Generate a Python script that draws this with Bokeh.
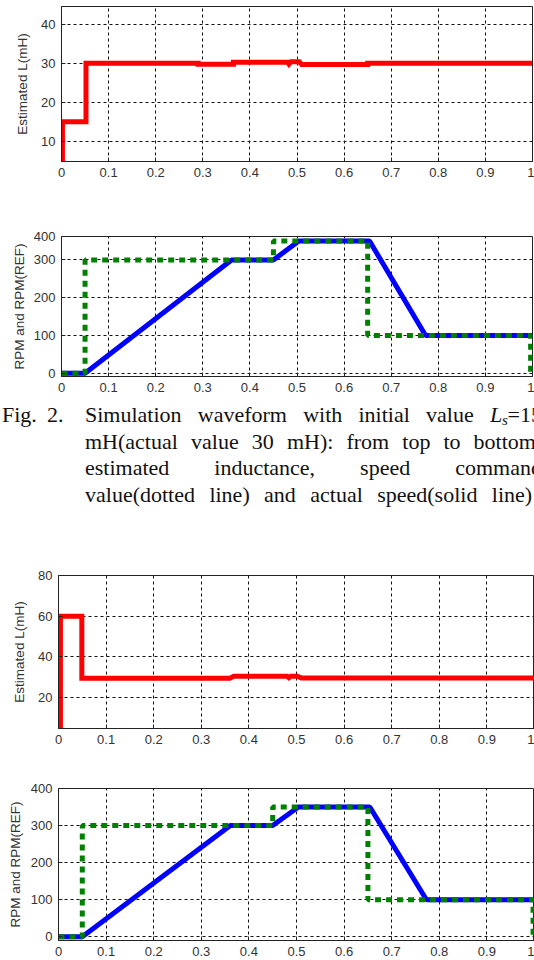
from bokeh.plotting import figure
from bokeh.layouts import column
from bokeh.models import Range1d, FixedTicker, Div
from bokeh.embed import file_html
from bokeh.resources import INLINE

# ---------------- data ----------------
time_ticks = [0, 0.1, 0.2, 0.3, 0.4, 0.5, 0.6, 0.7, 0.8, 0.9, 1.0]
time_labels = ["0", "0.1", "0.2", "0.3", "0.4", "0.5", "0.6", "0.7", "0.8", "0.9", "1"]

# Panel 1: estimated inductance, initial value 15 mH
est1_t = [0.002, 0.002, 0.052, 0.052, 0.29, 0.29, 0.365, 0.365, 0.48, 0.483, 0.487, 0.505, 0.51, 0.65, 0.65, 1.0]
est1_L = [0, 15, 15, 30, 30, 29.8, 29.8, 30.3, 30.3, 29.8, 30.4, 30.4, 29.7, 29.7, 30.05, 30.05]
est1_yticks = [10, 20, 30, 40]

# Panel 2: speed (actual, command), run 1
spd1_t = [0, 0.05, 0.361, 0.45, 0.504, 0.654, 0.773, 1.0]
spd1_rpm = [0, 0, 300, 300, 350, 350, 100, 100]
ref1_t = [0, 0.05, 0.05, 0.45, 0.45, 0.65, 0.65, 0.996, 0.996]
ref1_rpm = [0, 0, 300, 300, 350, 350, 100, 100, 0]
rpm1_yticks = [0, 100, 200, 300, 362]
rpm1_overrides = {362: "400"}

# Panel 3: estimated inductance, initial value 60 mH
est2_t = [0.004, 0.004, 0.049, 0.049, 0.36, 0.368, 0.48, 0.484, 0.488, 0.502, 0.51, 1.0]
est2_L = [0, 60, 60, 29.6, 29.6, 30.5, 30.5, 29.8, 30.6, 30.6, 29.7, 29.7]
est2_yticks = [20, 40, 60, 80]

# Panel 4: speed (actual, command), run 2
spd2_t = [0, 0.05, 0.361, 0.45, 0.504, 0.654, 0.773, 1.0]
spd2_rpm = [0, 0, 300, 300, 350, 350, 100, 100]
ref2_t = [0, 0.05, 0.05, 0.45, 0.45, 0.65, 0.65, 0.997, 0.997]
ref2_rpm = [0, 0, 300, 300, 350, 350, 100, 100, 0]
rpm2_yticks = [0, 100, 200, 300, 400]

# caption words per line (positions below are layout only)
caption_words = [
    ["Fig.", "2.", "Simulation", "waveform", "with", "initial", "value"],
    ["mH(actual", "value", "30", "mH):", "from", "top", "to", "bottom:"],
    ["estimated", "inductance,", "speed", "command"],
    ["value(dotted", "line)", "and", "actual", "speed(solid", "line)"],
]
caption_x = [
    [2, 47, 85, 197.8, 303.2, 358.5, 426],
    [85, 191, 251.8, 286.9, 346.4, 402.3, 443.4, 473.6],
    [85, 214.3, 360.1, 455.2],
    [85, 209.4, 264.1, 310.3, 377.2, 491.8],
]
caption_base = [22, 49, 75.5, 102]

W = 534
AX = "#222222"
LBL = "#333333"


def make_panel(height, top, bottom, left, right, yr, yticks, ylabel, standoff, overrides=None):
    p = figure(width=W, height=height, x_range=Range1d(0, 1), y_range=Range1d(*yr),
               output_backend="svg", toolbar_location=None, title=None,
               min_border_top=top, min_border_bottom=bottom,
               min_border_left=left, min_border_right=right)
    p.xaxis.ticker = FixedTicker(ticks=time_ticks)
    p.xaxis.major_label_overrides = dict(zip(time_ticks, time_labels))
    p.yaxis.ticker = FixedTicker(ticks=yticks)
    if overrides:
        p.yaxis.major_label_overrides = overrides
    p.xgrid.ticker = FixedTicker(ticks=time_ticks)
    p.ygrid.ticker = FixedTicker(ticks=yticks)
    for ax in (p.xaxis[0], p.yaxis[0]):
        ax.major_tick_in = 4
        ax.major_tick_out = 0
        ax.minor_tick_in = 0
        ax.minor_tick_out = 0
        ax.axis_line_color = AX
        ax.major_tick_line_color = AX
        ax.major_label_text_font = "Liberation Sans"
        ax.major_label_text_font_size = "13px"
        ax.major_label_text_color = LBL
        ax.major_label_standoff = 6
    p.yaxis.axis_label = ylabel
    p.yaxis.axis_label_text_font = "Liberation Sans"
    p.yaxis.axis_label_text_font_size = "13.5px"
    p.yaxis.axis_label_text_font_style = "normal"
    p.yaxis.axis_label_text_color = LBL
    p.yaxis.axis_label_standoff = standoff
    p.grid.grid_line_color = "#111111"
    p.grid.grid_line_dash = "3 3"
    p.grid.grid_line_width = 1
    p.outline_line_color = AX
    p.outline_line_width = 1
    p.background_fill_color = "white"
    p.border_fill_color = "white"
    return p


# Panel 1
p1 = make_panel(200, 6, 39, 61, 2, (4.8, 44.6), est1_yticks, "Estimated L(mH)", 8)
p1.line(est1_t, est1_L, line_color="#ff0000", line_width=5, line_join="miter")

# Panel 2
p2 = make_panel(200, 36, 24, 60, 2, (-8.7, 362), rpm1_yticks, "RPM and RPM(REF)", 4, rpm1_overrides)
p2.line(spd1_t, spd1_rpm, line_color="#0000ff", line_width=5)
p2.line(ref1_t, ref1_rpm, line_color="#008000", line_width=5, line_dash="6 5")

# Caption (HTML text, absolutely placed words to mimic justified layout)
ASC = 0.8375  # baseline offset inside a line-height:1 box for Liberation Serif


def span(txt, x, base, size=22, italic=False):
    top = base - ASC * size
    st = "font-style:italic;" if italic else ""
    return ('<span style="position:absolute;left:%.1fpx;top:%.1fpx;font-size:%dpx;'
            'line-height:1;white-space:nowrap;%s">%s</span>' % (x, top, size, st, txt))


parts = []
for words, xpos, base in zip(caption_words, caption_x, caption_base):
    for w, x in zip(words, xpos):
        parts.append(span(w, x, base))
parts.append(span("L", 489.9, 22, italic=True))
parts.append(span("s", 502.1, 26, size=15, italic=True))
parts.append(span("=15", 507.5, 22))
cap_html = ('<div style="position:relative;width:534px;height:155px;overflow:hidden;'
            'font-family:\'Liberation Serif\',serif;color:#111111;">' + "".join(parts) + '</div>')
cap = Div(text=cap_html, width=W, height=155, margin=0)

# Panel 3
p3 = make_panel(210, 20, 37, 58, 0, (4.9, 80), est2_yticks, "Estimated L(mH)", 8)
p3.line(est2_t, est2_L, line_color="#ff0000", line_width=5, line_join="miter")

# Panel 4
p4 = make_panel(195, 23, 20, 57, 0, (-10, 400), rpm2_yticks, "RPM and RPM(REF)", 5)
p4.line(spd2_t, spd2_rpm, line_color="#0000ff", line_width=5)
p4.line(ref2_t, ref2_rpm, line_color="#008000", line_width=5, line_dash="6 5")

layout = column(column(p1, p2, spacing=0), cap, column(p3, p4, spacing=0), spacing=0)
open("out.html", "w").write(file_html(layout, INLINE))
